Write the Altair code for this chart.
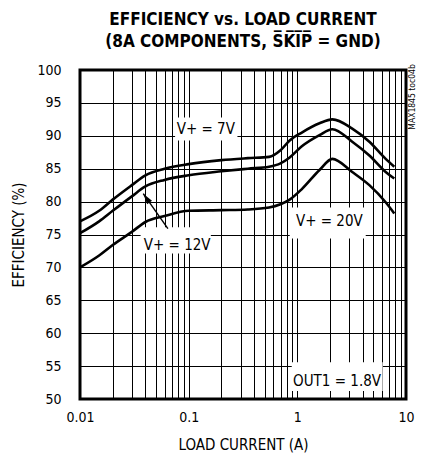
import altair as alt
import pandas as pd

# ---- data ----
current = [0.01, 0.015, 0.02, 0.03, 0.04, 0.06, 0.1, 0.2, 0.35, 0.55, 0.7, 0.85, 1.1, 1.6, 2.1, 3.2, 4.6, 6.5, 7.8]
eff_7v = [77.0, 78.6, 80.3, 82.5, 84.0, 85.0, 85.7, 86.3, 86.6, 86.8, 87.8, 89.3, 90.5, 91.9, 92.5, 91.1, 89.1, 86.5, 85.3]
eff_12v = [75.2, 77.0, 78.6, 80.8, 82.3, 83.3, 84.0, 84.6, 85.0, 85.3, 85.8, 86.7, 88.4, 90.1, 91.0, 89.1, 87.0, 84.5, 83.5]
eff_20v = [70.0, 71.8, 73.4, 75.4, 76.9, 77.8, 78.6, 78.7, 78.8, 79.1, 79.6, 80.3, 81.9, 84.8, 86.5, 84.5, 82.5, 79.9, 78.2]
series_names = ["V+ = 7V", "V+ = 12V", "V+ = 20V"]

x_grid = [0.01, 0.02, 0.03, 0.04, 0.05, 0.06, 0.07, 0.08, 0.09,
          0.1, 0.2, 0.3, 0.4, 0.5, 0.6, 0.7, 0.8, 0.9,
          1, 2, 3, 4, 5, 6, 7, 8, 9, 10]
x_labels = [0.01, 0.1, 1, 10]
y_ticks = [50, 55, 60, 65, 70, 75, 80, 85, 90, 95, 100]

# annotations (data coordinates)
label_text = ["V+ = 7V", "V+ = 12V", "V+ = 20V", "OUT1 = 1.8V"]
label_x = [0.1437, 0.0783, 1.97, 2.32]
label_y = [91.0, 73.4, 77.0, 52.7]
box_x0 = [0.075, 0.0361, 0.851, 0.888]
box_x1 = [0.281, 0.16, 4.26, 6.1]
box_y0 = [89.3, 72.1, 74.4, 51.2]
box_y1 = [92.8, 76.1, 79.1, 55.6]
arrow_tail = (0.0644, 75.9)
arrow_tip = (0.0382, 81.2)
code_text = "MAX1845 toc04b"
code_pos = (11.35, 95.9)

FONT = "Liberation Sans Narrow, DejaVu Sans Condensed, sans-serif"

rows = []
for name, vals in zip(series_names, [eff_7v, eff_12v, eff_20v]):
    for c, v in zip(current, vals):
        rows.append({"current": c, "eff": v, "series": name})
curves_df = pd.DataFrame(rows)

labels_df = pd.DataFrame({"text": label_text, "x": label_x, "y": label_y,
                          "x0": box_x0, "x1": box_x1, "y0": box_y0, "y1": box_y1})
arrow_df = pd.DataFrame({"x": [arrow_tail[0]], "y": [arrow_tail[1]],
                         "x2": [arrow_tip[0]], "y2": [arrow_tip[1]]})
tip_df = pd.DataFrame({"x": [arrow_tip[0]], "y": [arrow_tip[1]]})
code_df = pd.DataFrame({"x": [code_pos[0]], "y": [code_pos[1]], "text": [code_text]})

xscale = alt.Scale(type="log", domain=[0.01, 10])
yscale = alt.Scale(domain=[50, 100], zero=False, nice=False)

label_expr = "(datum.value == 0.01 || datum.value == 0.1 || datum.value == 1 || datum.value == 10) ? datum.label : ''"

x_axis = alt.Axis(values=x_grid, format="~g", labelExpr=label_expr, grid=True,
                  gridColor="black", gridWidth=1, gridOpacity=1, ticks=False, tickSize=0,
                  domain=False, labelFont=FONT, labelFontSize=14, labelColor="black",
                  labelPadding=11, labelOverlap=False, labelFlush=False,
                  title="LOAD CURRENT (A)", titleFont=FONT, titleFontSize=15,
                  titleFontWeight="normal", titleColor="black", titlePadding=13)
y_axis = alt.Axis(values=y_ticks, grid=True, gridColor="black", gridWidth=1, gridOpacity=1,
                  ticks=False, tickSize=0, domain=False, labelFont=FONT, labelFontSize=14,
                  labelColor="black", labelPadding=19, labelOverlap=False, labelFlush=False,
                  title="EFFICIENCY (%)", titleFont=FONT, titleFontSize=15,
                  titleFontWeight="normal", titleColor="black", titlePadding=10)


def X(field):
    return alt.X(field, scale=xscale, axis=x_axis)


def Y(field):
    return alt.Y(field, scale=yscale, axis=y_axis)


boxes = alt.Chart(labels_df).mark_rect(color="white").encode(
    x=X("x0:Q"), x2="x1:Q", y=Y("y0:Q"), y2="y1:Q")

texts = alt.Chart(labels_df).mark_text(font=FONT, fontSize=15, color="black",
                                        align="center", baseline="middle").encode(
    x=X("x:Q"), y=Y("y:Q"), text="text:N")

lines = alt.Chart(curves_df).mark_line(color="black", strokeWidth=2.6, interpolate="monotone").encode(
    x=X("current:Q"), y=Y("eff:Q"), detail="series:N")

arrow_line = alt.Chart(arrow_df).mark_rule(color="black", strokeWidth=1.4).encode(
    x=X("x:Q"), y=Y("y:Q"), x2="x2:Q", y2="y2:Q")

arrow_head = alt.Chart(tip_df).mark_point(
    shape="M0,0 L-1,3.6 L1,3.6 Z", size=36, filled=True, color="black", opacity=1, angle=324
).encode(x=X("x:Q"), y=Y("y:Q"))

code = alt.Chart(code_df).mark_text(font=FONT, fontSize=8.5, color="black", angle=270,
                                    align="center", baseline="middle").encode(
    x=X("x:Q"), y=Y("y:Q"), text="text:N")

chart = alt.layer(boxes, texts, lines, arrow_line, arrow_head, code).properties(
    width=326, height=329,
    title=alt.TitleParams(
        text=["EFFICIENCY vs. LOAD CURRENT", "(8A COMPONENTS, S\u0305K\u0305I\u0305P\u0305 = GND)"],
        font=FONT, fontSize=17, fontWeight="bold", color="black", anchor="middle",
        frame="group", offset=12, lineHeight=22),
    padding={"left": 72, "top": 62, "right": 10, "bottom": 58},
    autosize=alt.AutoSizeParams(type="none"),
).configure_view(stroke="black", strokeWidth=3)

chart.save("out.html", embed_options={"renderer": "svg", "actions": False})
